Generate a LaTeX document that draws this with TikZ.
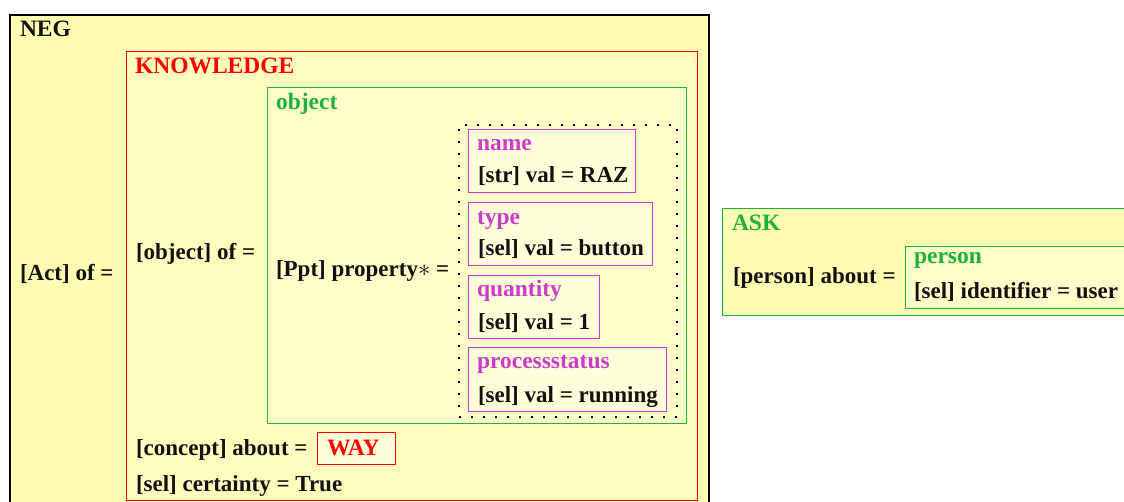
\documentclass[tikz,border=0pt]{standalone}
\usepackage{fontspec}
\setmainfont{Liberation Serif}
\definecolor{negfill}{RGB}{255,253,178}
\definecolor{knowfill}{RGB}{255,253,190}
\definecolor{objfill}{RGB}{255,253,200}
\definecolor{attrfill}{RGB}{255,255,218}
\definecolor{frgreen}{RGB}{30,178,60}
\definecolor{frmag}{RGB}{204,60,204}
\definecolor{frred}{RGB}{255,0,0}
\definecolor{txtblack}{RGB}{17,17,17}
\begin{document}
\begin{tikzpicture}[x=1pt,y=-1pt,
  box/.style={draw, line width=1pt, anchor=north west, inner sep=0pt, outer sep=0pt},
  dotbox/.style={draw=black, line width=2pt, dash pattern=on 2pt off 10pt, anchor=north west, inner sep=0pt, outer sep=0pt},
  txt/.style={anchor=base west, inner sep=0pt, outer sep=0pt, text=txtblack, font=\fontsize{23}{27}\selectfont\bfseries},
  ttl/.style={txt, font=\fontsize{23.5}{27}\selectfont\bfseries}]
\useasboundingbox (0,0) rectangle (1124,502);
\clip (0,0) rectangle (1124,502);
% NEG frame
\node[box, draw=black, line width=1.3pt, fill=negfill, minimum width=699pt, minimum height=510pt] (neg) at (10,15) {};
\node[ttl] (negt) at (20,37) {NEG};
\node[txt] (act) at (20,281) {[Act] of =};
% KNOWLEDGE frame
\node[box, draw=frred, fill=knowfill, minimum width=571pt, minimum height=448pt] (know) at (126,52) {};
\node[ttl, text=frred] (knowt) at (135,74) {KNOWLEDGE};
\node[txt] (objof) at (136,260) {[object] of =};
% object frame
\node[box, draw=frgreen, fill=objfill, minimum width=419pt, minimum height=335pt] (obj) at (267,88) {};
\node[ttl, text=frgreen] (objt) at (276,110) {object};
\node[txt] (ppt) at (276,277) {[Ppt] property$\ast$ =};
% dotted set
\node[dotbox, minimum width=218pt, minimum height=292pt] (set) at (459,125) {};
% attribute frames
\node[box, draw=frmag, fill=attrfill, minimum width=167pt, minimum height=63pt] (name) at (468,130) {};
\node[ttl, text=frmag] (namet) at (477,151) {name};
\node[txt] (namev) at (478,183) {[str] val = RAZ};
\node[box, draw=frmag, fill=attrfill, minimum width=184pt, minimum height=63pt] (type) at (468,203) {};
\node[ttl, text=frmag] (typet) at (477,225) {type};
\node[txt] (typev) at (478,256) {[sel] val = button};
\node[box, draw=frmag, fill=attrfill, minimum width=131pt, minimum height=63pt] (quant) at (468,276) {};
\node[ttl, text=frmag] (quantt) at (477,297) {quantity};
\node[txt] (quantv) at (478,330) {[sel] val = 1};
\node[box, draw=frmag, fill=attrfill, minimum width=198pt, minimum height=63pt] (proc) at (468,348) {};
\node[ttl, text=frmag] (proct) at (477,369) {processstatus};
\node[txt] (procv) at (478,402) {[sel] val = running};
% about / certainty
\node[txt] (concept) at (136,455) {[concept] about =};
\node[box, draw=frred, fill=attrfill, minimum width=78pt, minimum height=32pt] (way) at (317,432) {};
\node[ttl, text=frred] (wayt) at (327,455) {WAY};
\node[txt] (cert) at (136,491) {[sel] certainty = True};
% ASK frame
\node[box, draw=frgreen, fill=negfill, minimum width=420pt, minimum height=107pt] (ask) at (722,209) {};
\node[ttl, text=frgreen] (askt) at (732,231) {ASK};
\node[txt] (about) at (733,284) {[person] about =};
\node[box, draw=frgreen, fill=objfill, minimum width=240pt, minimum height=62pt] (person) at (905,247) {};
\node[ttl, text=frgreen] (persont) at (914,264) {person};
\node[txt] (personv) at (914,299) {[sel] identifier = user};
\end{tikzpicture}
\end{document}
